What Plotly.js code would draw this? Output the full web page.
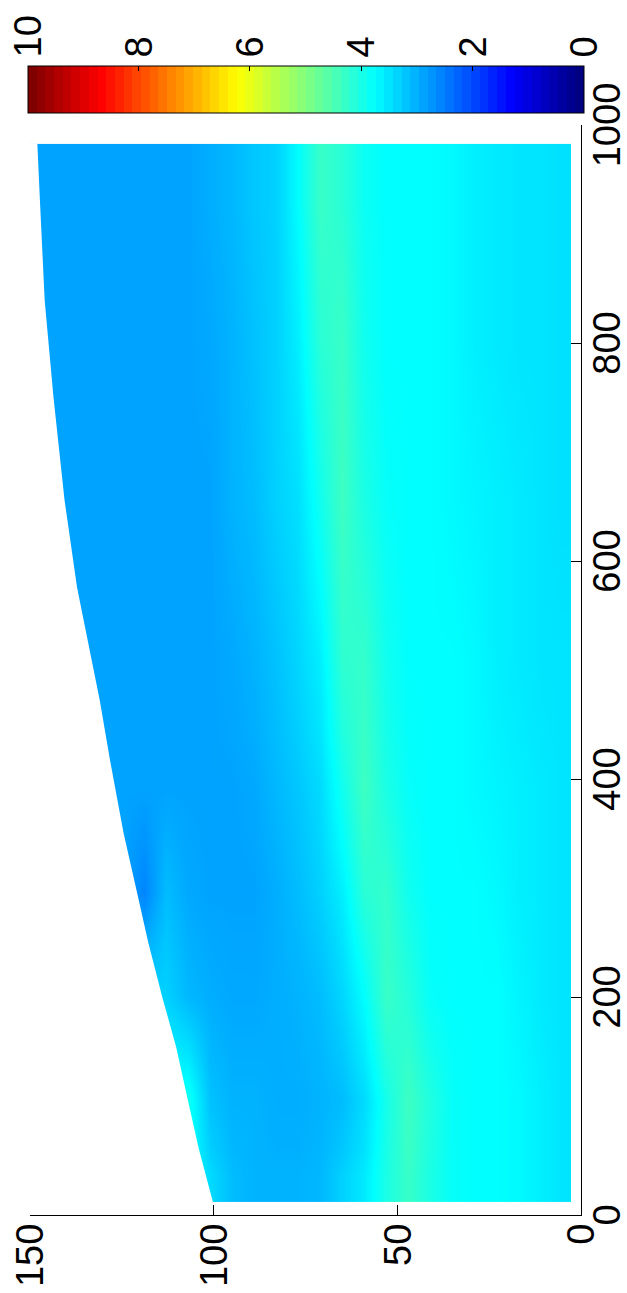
<!DOCTYPE html>
<html><head><meta charset="utf-8">
<script src="https://cdn.plot.ly/plotly-3.0.1.min.js"></script>
<style>
html,body{margin:0;padding:0;overflow:hidden;background:#fff;width:627px;height:1293px;}
#chart{position:absolute;left:0;top:0;width:1293px;height:627px;transform-origin:0 0;transform:translate(0px,1293px) rotate(-90deg);}
</style></head><body><div id="chart"></div>
<script>
// Grid cell edges of the field (x: 0..1000 axis, y: 0..150 axis)
const xEdges = [12, 60, 150, 250, 340, 440, 580, 730, 870, 983];
const yEdges = [2.7, 8, 14, 20, 26, 32, 38, 44, 50, 56, 62, 68, 74, 80, 86, 92, 98, 104, 110, 116, 122, 128, 134, 140, 150];

// Field values per column (bottom row first)
const colX35  = [3.5, 3.6, 3.7, 3.75, 3.75, 3.8, 4.0, 4.3, 4.0, 3.55, 3.3, 3.05, 3.0, 3.0, 3.0, 3.1, 3.4, 3.8, 3.8, 3.8, 3.8, 3.8, 3.8, 3.8];
const colX105 = [3.5, 3.6, 3.7, 3.75, 3.75, 3.8, 4.05, 4.35, 3.95, 3.4, 3.1, 3.0, 2.95, 2.95, 3.0, 3.0, 3.15, 3.9, 3.9, 3.9, 3.9, 3.9, 3.9, 3.9];
const colX200 = [3.5, 3.55, 3.65, 3.75, 3.75, 3.75, 3.8, 4.1, 4.3, 3.75, 3.35, 3.1, 3.0, 2.95, 2.9, 2.9, 2.95, 3.05, 3.3, 3.3, 3.3, 3.3, 3.3, 3.3];
const colX295 = [3.5, 3.55, 3.6, 3.7, 3.75, 3.75, 3.75, 3.9, 4.25, 4.15, 3.6, 3.3, 3.1, 2.95, 2.85, 2.85, 2.85, 2.9, 3.1, 2.55, 2.85, 2.85, 2.85, 2.85];
const colX390 = [3.5, 3.55, 3.6, 3.65, 3.7, 3.75, 3.75, 3.8, 4.0, 4.35, 3.9, 3.4, 3.2, 3.05, 2.9, 2.85, 2.85, 2.85, 2.85, 2.85, 2.85, 2.85, 2.85, 2.85];
const colX510 = [3.5, 3.5, 3.55, 3.6, 3.7, 3.75, 3.75, 3.75, 3.9, 4.25, 4.2, 3.6, 3.35, 3.15, 3.0, 2.9, 2.85, 2.85, 2.85, 2.85, 2.85, 2.85, 2.85, 2.85];
const colX655 = [3.45, 3.5, 3.55, 3.6, 3.65, 3.7, 3.75, 3.75, 3.8, 4.0, 4.35, 3.9, 3.45, 3.3, 3.1, 3.0, 2.85, 2.85, 2.85, 2.85, 2.85, 2.85, 2.85, 2.85];
const colX800 = [3.45, 3.5, 3.5, 3.55, 3.6, 3.7, 3.75, 3.75, 3.75, 3.9, 4.3, 4.15, 3.6, 3.3, 3.15, 3.0, 2.9, 2.85, 2.85, 2.85, 2.85, 2.85, 2.85, 2.85];
const colX926 = [3.45, 3.5, 3.5, 3.55, 3.6, 3.7, 3.75, 3.75, 3.75, 3.85, 4.15, 4.3, 3.75, 3.3, 3.2, 3.05, 2.95, 2.85, 2.85, 2.85, 2.85, 2.85, 2.85, 2.85];

// Upper limit of the computed domain
const domainX   = [12, 60, 105, 154, 200, 250, 295, 350, 417, 472, 576, 656, 750, 839, 931, 983];
const domainTop = [100.2, 104, 107, 110.2, 114, 117.8, 120.8, 124.5, 128.2, 131, 137.2, 140.6, 143.6, 146, 147.3, 148];

const xTicks = [0, 200, 400, 600, 800, 1000];
const yTicks = [0, 50, 100, 150];
const cTicks = [0, 2, 4, 6, 8, 10];
const cRange = [0, 10];

const columns = [colX35, colX105, colX200, colX295, colX390, colX510, colX655, colX800, colX926];
const zRows = yEdges.slice(1).map((_, r) => columns.map(c => c[r]));

function jet(t) {
  const f = v => Math.round(255 * Math.min(1, Math.max(0, v)));
  return 'rgb(' + f(1.5 - Math.abs(4 * t - 3)) + ',' + f(1.5 - Math.abs(4 * t - 2)) + ',' + f(1.5 - Math.abs(4 * t - 1)) + ')';
}
// smooth jet for the field, 64-step jet for the colour bar
const jetSmooth = [];
for (let i = 0; i <= 40; i++) jetSmooth.push([i / 40, jet(i / 40)]);
const jetSteps = [];
for (let i = 0; i < 64; i++) {
  const c = jet(i / 63);
  jetSteps.push([i / 64, c]);
  jetSteps.push([(i + 1) / 64, c]);
}

const FONT = {family: '"Liberation Sans", Arial, Helvetica, sans-serif', size: 38, color: '#000'};

const field = {
  type: 'heatmap', x: xEdges, y: yEdges, z: zRows,
  zmin: cRange[0], zmax: cRange[1], colorscale: jetSmooth, zsmooth: 'best',
  hoverinfo: 'skip', showscale: false
};
const mask = {
  type: 'scatter', mode: 'lines',
  x: domainX.concat([983, 12]), y: domainTop.concat([150, 150]),
  fill: 'toself', fillcolor: '#ffffff', line: {width: 0, color: 'rgba(0,0,0,0)'},
  hoverinfo: 'skip', showlegend: false
};
const scaleHolder = {
  type: 'scatter', mode: 'markers', x: [-500, -500], y: [-500, -500],
  hoverinfo: 'skip', showlegend: false,
  marker: {
    size: 1, opacity: 0, color: cRange, cmin: cRange[0], cmax: cRange[1], colorscale: jetSteps, showscale: true,
    colorbar: {
      thickness: 47, thicknessmode: 'pixels', len: 556, lenmode: 'pixels',
      x: 1.011, xanchor: 'left', y: 0.5, yanchor: 'middle', xpad: 0, ypad: 0,
      outlinewidth: 1, outlinecolor: '#000',
      tickmode: 'array', tickvals: cTicks, ticks: 'inside', ticklen: 5, tickcolor: '#000',
      tickfont: FONT
    }
  }
};

const axisCommon = {
  ticks: 'inside', ticklen: 10, tickwidth: 1, tickcolor: '#000',
  showline: true, linecolor: '#000', linewidth: 1, mirror: false,
  showgrid: false, zeroline: false, tickfont: FONT, tickmode: 'array'
};

const layout = {
  width: 1293, height: 627,
  margin: {l: 78, r: 125, t: 30, b: 46, autoexpand: false},
  paper_bgcolor: '#fff', plot_bgcolor: '#fff', showlegend: false,
  xaxis: Object.assign({}, axisCommon, {range: [0, 1000], tickvals: xTicks, ticklabelstandoff: -8}),
  yaxis: Object.assign({}, axisCommon, {range: [0, 150], tickvals: yTicks})
};

Plotly.newPlot('chart', [field, mask, scaleHolder], layout, {staticPlot: true, displayModeBar: false});
</script></body></html>
